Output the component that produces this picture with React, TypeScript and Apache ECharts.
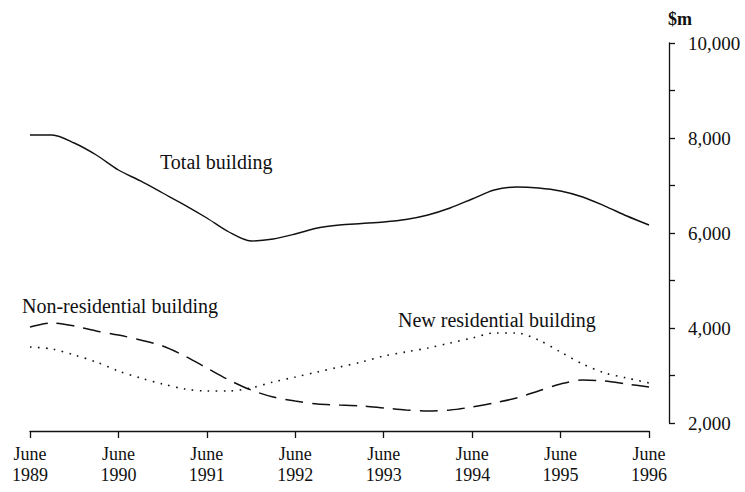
import React, { useEffect, useRef } from "react";
import * as echarts from "echarts";

// Quarterly points, June 1989 .. June 1996
const quarters: string[] = [];
const qMonths = ["Jun", "Sep", "Dec", "Mar"];
for (let i = 0; i <= 28; i++) {
  const yr = 1989 + Math.floor(i / 4) + (i % 4 === 3 ? 1 : 0);
  quarters.push(`${qMonths[i % 4]} ${yr}`);
}

const totalBuilding = [
  8063, 8063, 7895, 7642, 7326, 7095, 6842, 6589, 6316, 6021, 5832, 5874, 5979, 6105, 6168,
  6200, 6232, 6284, 6379, 6526, 6716, 6905, 6968, 6947, 6884, 6758, 6568, 6358, 6168,
];
const nonResidential = [
  4021, 4105, 4042, 3937, 3853, 3747, 3621, 3411, 3158, 2905, 2695, 2547, 2463, 2400, 2379,
  2358, 2316, 2274, 2253, 2274, 2337, 2421, 2526, 2674, 2821, 2905, 2884, 2821, 2758,
];
const newResidential = [
  3600, 3558, 3432, 3284, 3095, 2947, 2821, 2716, 2674, 2674, 2737, 2863, 2968, 3074, 3179,
  3284, 3411, 3495, 3579, 3684, 3789, 3895, 3895, 3747, 3495, 3242, 3053, 2947, 2842,
];
const yTickLabels = ["2,000", "4,000", "6,000", "8,000", "10,000"];

const FONT = "'Liberation Serif', 'Times New Roman', serif";

export default function App() {
  const ref = useRef<HTMLDivElement>(null);
  useEffect(() => {
    if (!ref.current) return;
    const chart = echarts.init(ref.current, undefined, { renderer: "svg" });
    chart.setOption({
      animation: false,
      backgroundColor: "#ffffff",
      textStyle: { fontFamily: FONT, color: "#111" },
      grid: { left: 30, right: 96, top: 43, bottom: 69, containLabel: false },
      xAxis: {
        type: "category",
        data: quarters,
        boundaryGap: false,
        offset: 8,
        axisLine: { show: true, lineStyle: { color: "#111", width: 1.3 } },
        axisTick: { show: true, interval: 3, length: 7, inside: false, lineStyle: { color: "#111", width: 1.3 } },
        axisLabel: {
          interval: 3,
          margin: 12,
          fontFamily: FONT,
          fontSize: 18,
          color: "#111",
          lineHeight: 21,
          formatter: (v: string) => "June\n" + v.split(" ")[1],
        },
        splitLine: { show: false },
      },
      yAxis: {
        type: "value",
        position: "right",
        offset: 20,
        min: 2000,
        max: 10000,
        interval: 1000,
        axisLine: { show: true, lineStyle: { color: "#111", width: 1.3 } },
        axisTick: { show: true, inside: false, length: 6, lineStyle: { color: "#111", width: 1.3 } },
        axisLabel: {
          margin: 19,
          fontFamily: FONT,
          fontSize: 19,
          color: "#111",
          formatter: (v: number) => {
            const idx = (v - 2000) / 2000;
            return Number.isInteger(idx) ? yTickLabels[idx] : "";
          },
        },
        splitLine: { show: false },
      },
      series: [
        {
          name: "Total building",
          type: "line",
          data: totalBuilding,
          smooth: 0.3,
          symbol: "none",
          lineStyle: { color: "#111", width: 1.4, type: "solid" },
        },
        {
          name: "Non-residential building",
          type: "line",
          data: nonResidential,
          smooth: 0.3,
          symbol: "none",
          lineStyle: { color: "#111", width: 1.5, type: [18, 9] },
        },
        {
          name: "New residential building",
          type: "line",
          data: newResidential,
          smooth: 0.3,
          symbol: "none",
          lineStyle: { color: "#111", width: 1.6, type: [1.6, 6.4] },
        },
      ],
      graphic: [
        {
          type: "text",
          left: 668,
          top: 10,
          style: { text: "$m", font: `bold 18px ${FONT}`, fill: "#111" },
        },
        {
          type: "text",
          x: 160,
          y: 162,
          style: { text: "Total building", font: `20px ${FONT}`, fill: "#111", textVerticalAlign: "middle" },
        },
        {
          type: "text",
          x: 22,
          y: 306,
          style: { text: "Non-residential building", font: `20px ${FONT}`, fill: "#111", textVerticalAlign: "middle" },
        },
        {
          type: "text",
          x: 398,
          y: 320,
          style: { text: "New residential building", font: `20px ${FONT}`, fill: "#111", textVerticalAlign: "middle" },
        },
      ],
    });
    return () => chart.dispose();
  }, []);
  return (
    <div
      ref={ref}
      style={{ position: "absolute", left: 0, top: 0, width: 745, height: 492 }}
    />
  );
}
